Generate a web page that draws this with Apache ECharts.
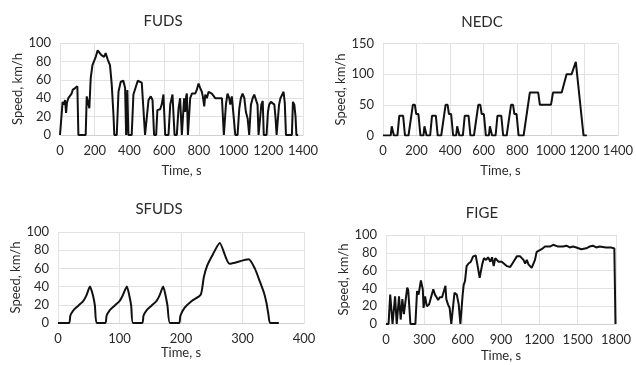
<!DOCTYPE html>
<html><head><meta charset="utf-8">
<script src="https://cdn.jsdelivr.net/npm/echarts@6/dist/echarts.min.js"></script>
<style>html,body{margin:0;padding:0;background:#fff}#c{width:636px;height:365px}</style>
</head><body><div id="c"></div>
<script>
// FUDS
const fudsTime = [0,10,15,23,29,35,40,48,58,67,73,87,96,100,106,148,154,163,169,177,187,198,206,217,227,237,244,254,263,275,288,298,308,313,327,337,350,365,375,381,388,394,413,423,448,471,481,490,500,510,523,533,542,554,561,577,586,596,606,625,635,648,660,673,683,692,702,708,715,721,727,731,737,744,750,760,769,779,788,798,808,817,823,831,837,846,856,865,875,885,894,904,913,923,933,938,944,950,956,965,975,981,990,1000,1010,1023,1033,1042,1052,1062,1071,1081,1090,1100,1110,1119,1129,1138,1144,1150,1160,1168,1174,1190,1198,1205,1215,1225,1235,1242,1248,1256,1262,1270,1278,1288,1295,1302,1336,1342,1350,1357,1362,1372];
const fudsSpeed = [0,0,36,33,38,24,35,40,42,45,49,51,49,53,0,0,42,44,29,62,76,78,85,92,91,87,89,85,89,82,76,55,22,0,0,47,58,59,51,0,49,0,0,44,59,57,55,0,0,38,42,38,0,0,27,28,33,44,0,0,33,44,0,0,29,40,0,0,40,25,42,45,0,0,40,45,46,45,49,56,51,47,42,31,44,40,47,45,45,44,40,42,40,40,40,40,0,0,33,45,40,33,42,40,0,0,29,40,45,40,25,18,0,33,40,44,42,33,0,0,33,37,0,0,25,33,36,35,33,18,0,0,33,40,38,47,35,0,0,36,33,20,0,0];
// NEDC
const nedcTime = [0,46,52,60,65,86,97,120,131,152,178,190,198,211,223,241,247,255,260,281,292,315,326,347,373,385,393,406,418,436,442,450,455,476,487,510,521,542,568,580,588,601,613,631,637,645,650,671,682,705,716,737,763,775,783,796,808,838,875,925,935,1001,1013,1065,1094,1124,1149,1160,1195,1215];
const nedcSpeed = [0,0,15,15,0,0,32,32,0,0,50,50,35,35,0,0,15,15,0,0,32,32,0,0,50,50,35,35,0,0,15,15,0,0,32,32,0,0,50,50,35,35,0,0,15,15,0,0,32,32,0,0,50,50,35,35,0,0,70,70,50,50,70,70,100,100,120,120,0,0];
// SFUDS
const sfudsTime = [0,18,20,25,33,41,46,52,57,60,63,77,79,84,92,100,105,112,116,119,122,137,139,144,152,160,165,171,175,178,182,197,199,206,217,232,237,242,250,263,279,310,320,328,335,339,342,345,359];
const sfudsSpeed = [0,0,8,14,19,24,30,40,30,19,0,0,8,14,19,24,30,40,30,19,0,0,8,14,19,24,30,40,30,19,0,0,8,17,24,31,50,62,73,88,65,70,60,46,33,22,10,0,0];
// FIGE
const figeTime = [0,20,33,51,71,84,102,115,128,140,166,174,191,230,243,255,273,288,294,306,319,337,350,370,383,396,408,421,439,454,465,472,485,498,511,523,536,554,569,582,587,600,608,618,631,646,664,682,702,715,733,753,766,784,799,817,830,843,855,881,906,921,947,972,998,1024,1050,1076,1089,1102,1115,1128,1140,1153,1166,1179,1192,1218,1244,1283,1309,1322,1347,1386,1412,1438,1464,1490,1528,1567,1593,1619,1645,1671,1722,1761,1787,1795,1796];
const figeSpeed = [0,0,33,0,31,0,31,5,28,11,41,38,0,0,37,33,49,39,18,31,20,22,20,39,33,30,27,30,30,31,43,28,22,18,0,17,35,33,22,0,0,33,44,48,65,68,70,76,77,67,52,67,74,72,75,70,75,65,74,70,70,68,65,64,70,76,76,72,68,72,67,68,63,65,72,81,83,84,87,87,89,91,87,87,88,86,87,86,84,85,87,88,86,87,86,86,85,85,0];
// Axis ticks [min, max, step]
const xTicks = {fuds:[0,1400,200], nedc:[0,1400,200], sfuds:[0,400,100], fige:[0,1800,300]};
const yTicks = {fuds:[0,100,20], nedc:[0,150,50], sfuds:[0,100,20], fige:[0,100,20]};
const titles = ['FUDS','NEDC','SFUDS','FIGE'];

const FONT = 'Lato, "Open Sans", sans-serif';
const gridPos = [
  {left:60, right:333, top:43, bottom:230},
  {left:383, right:15, top:43.5, bottom:229.5},
  {left:58, right:332, top:232, bottom:42},
  {left:386, right:20, top:235, bottom:41}
];
const keys = ['fuds','nedc','sfuds','fige'];
const yNameGap = [34, 33, 25, 33];
const xNameGap = [29, 29, 22, 25];
const pairs = [[fudsTime,fudsSpeed],[nedcTime,nedcSpeed],[sfudsTime,sfudsSpeed],[figeTime,figeSpeed]];
const titlePos = [[163,21],[482,22],[159,209],[482,213]];

const grid = [], xAxis = [], yAxis = [], series = [], graphic = [];
keys.forEach((k,i)=>{
  grid.push(Object.assign({containLabel:false}, gridPos[i]));
  xAxis.push({type:'value', gridIndex:i, min:xTicks[k][0], max:xTicks[k][1], interval:xTicks[k][2],
    name:'Time, s', nameLocation:'middle', nameGap:xNameGap[i],
    nameTextStyle:{fontFamily:FONT, fontSize:13, color:'#2a2a2a'},
    axisLine:{show:true, lineStyle:{color:'#d0d0d0', width:1}}, axisTick:{show:false},
    axisLabel:{fontFamily:FONT, fontSize:13, color:'#2a2a2a', margin:9, formatter:(v)=>String(v)},
    splitLine:{show:true, lineStyle:{color:'#e2e2e2', width:1}}});
  yAxis.push({type:'value', gridIndex:i, min:yTicks[k][0], max:yTicks[k][1], interval:yTicks[k][2],
    name:'Speed, km/h', nameLocation:'middle', nameGap:yNameGap[i], nameRotate:90,
    nameTextStyle:{fontFamily:FONT, fontSize:13, color:'#2a2a2a'},
    axisLine:{show:false}, axisTick:{show:false},
    axisLabel:{fontFamily:FONT, fontSize:13, color:'#2a2a2a', margin:9, formatter:(v)=>String(v)},
    splitLine:{show:true, lineStyle:{color:'#e2e2e2', width:1}}});
  const [t,v] = pairs[i];
  series.push({type:'line', xAxisIndex:i, yAxisIndex:i, data:t.map((x,j)=>[x,v[j]]),
    showSymbol:false, symbol:'none', smooth: i===2 ? 0.2 : false,
    lineStyle:{color:'#111', width:2}, animation:false});
  graphic.push({type:'text', x:titlePos[i][0], y:titlePos[i][1],
    style:{text:titles[i], textAlign:'center', textVerticalAlign:'middle', font:'15px '+FONT, fill:'#2a2a2a'}});
});

const chart = echarts.init(document.getElementById('c'), null, {renderer:'canvas'});
chart.setOption({backgroundColor:'#fff', animation:false, grid, xAxis, yAxis, series, graphic});
</script></body></html>
